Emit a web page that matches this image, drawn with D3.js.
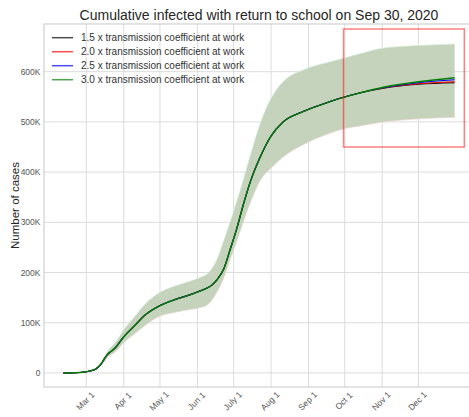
<!DOCTYPE html>
<meta charset="utf-8">
<style>
    body { margin: 0; background: #fff; }
    svg { font-family: "Liberation Sans", Arial, sans-serif; }
    .grid line { stroke: #dcdcdc; stroke-width: 1; }
    .tick-label { fill: #555; font-size: 8.5px; }
    .legend text { fill: #333; font-size: 10px; }
</style>
<svg class="chart"></svg>
<script src="https://cdn.jsdelivr.net/npm/d3@7"></script>
<script>

    // sample dates (2020)
    const dates = [
        "2020-02-11", "2020-02-20", "2020-02-27", "2020-03-04", "2020-03-09", "2020-03-13",
        "2020-03-16", "2020-03-19", "2020-03-21", "2020-03-25", "2020-04-01", "2020-04-10",
        "2020-04-19", "2020-04-30", "2020-05-12", "2020-05-25", "2020-06-03", "2020-06-09",
        "2020-06-13", "2020-06-17", "2020-06-23", "2020-06-28", "2020-07-04", "2020-07-09",
        "2020-07-15", "2020-07-23", "2020-08-01", "2020-08-11", "2020-08-28", "2020-09-16",
        "2020-09-30", "2020-10-14", "2020-11-02", "2020-12-01", "2020-12-31"
    ];

    // cumulative cases, thousands
    const work15 = [0, 0.5, 1.5, 4, 8, 17, 28, 38, 42, 50, 72, 94, 116, 133, 145, 155, 163, 169,
        175, 185, 208, 245, 291, 335, 382, 430, 472, 500, 521, 538, 549, 558, 567, 575, 578];
    const work20 = [0, 0.5, 1.5, 4, 8, 17, 28, 38, 42, 50, 72, 94, 116, 133, 145, 155, 163, 169,
        175, 185, 208, 245, 291, 335, 382, 430, 472, 500, 521, 538, 549, 558, 567.5, 576, 580];
    const work25 = [0, 0.5, 1.5, 4, 8, 17, 28, 38, 42, 50, 72, 94, 116, 133, 145, 155, 163, 169,
        175, 185, 208, 245, 291, 335, 382, 430, 472, 500, 521, 538, 549, 558, 568, 578, 584];
    const work30 = [0, 0.5, 1.5, 4, 8, 17, 28, 38, 42, 50, 72, 94, 116, 133, 145, 155, 163, 169,
        175, 185, 208, 245, 291, 335, 382, 430, 472, 500, 521, 538, 549, 558, 569, 580, 588];

    // uncertainty band, thousands
    const bandLow = [0, 0.5, 1.5, 3.5, 7, 14, 23, 32, 35, 42, 60, 78, 95, 112, 120, 126, 130, 135,
        145, 160, 190, 225, 265, 300, 340, 383, 408, 430, 455, 475, 486, 492, 500, 506, 509];
    const bandHigh = [0, 0.5, 1.5, 4.5, 9, 20, 33, 44, 50, 60, 86, 112, 138, 159, 172, 182, 190, 197,
        208, 225, 265, 300, 345, 385, 435, 497, 547, 580, 604, 618, 627, 636, 647, 652, 655];

    const seriesNames = [
        "1.5 x transmission coefficient at work",
        "2.0 x transmission coefficient at work",
        "2.5 x transmission coefficient at work",
        "3.0 x transmission coefficient at work"
    ];
    const seriesValues = [work15, work20, work25, work30];
    const seriesColors = ["#000000", "#ff0000", "#0000ff", "#008000"];

    const xTickDates = ["2020-03-01", "2020-04-01", "2020-05-01", "2020-06-01", "2020-07-01",
        "2020-08-01", "2020-09-01", "2020-10-01", "2020-11-01", "2020-12-01"];
    const xTickLabels = ["Mar 1", "Apr 1", "May 1", "Jun 1", "July 1", "Aug 1", "Sep 1", "Oct 1", "Nov 1", "Dec 1"];
    const yTickValues = [0, 100, 200, 300, 400, 500, 600];
    const yTickLabels = ["0", "100K", "200K", "300K", "400K", "500K", "600K"];

    // highlighted window
    const boxDates = ["2020-09-30", "2021-01-08"];
    const boxValues = [450, 685];

    const W = 469, H = 417;
    const plot = {left: 44, right: 474, top: 24, bottom: 387};
    const parse = d3.timeParse("%Y-%m-%d");

    const x = d3.scaleTime()
        .domain([parse("2020-01-26"), parse("2021-01-16")])
        .range([plot.left, plot.right]);
    const y = d3.scaleLinear()
        .domain([-28, 695])
        .range([plot.bottom, plot.top]);

    const svg = d3.select(".chart")
        .attr("width", W)
        .attr("height", H);

    // grid
    const grid = svg.append("g").attr("class", "grid");
    grid.selectAll("line.h")
        .data(yTickValues)
        .join("line")
        .attr("class", "h")
        .attr("x1", plot.left).attr("x2", plot.right)
        .attr("y1", d => y(d)).attr("y2", d => y(d));
    grid.selectAll("line.v")
        .data(xTickDates)
        .join("line")
        .attr("class", "v")
        .attr("x1", d => x(parse(d))).attr("x2", d => x(parse(d)))
        .attr("y1", plot.top).attr("y2", plot.bottom);

    // spines
    svg.append("rect")
        .attr("x", plot.left).attr("y", plot.top)
        .attr("width", plot.right - plot.left).attr("height", plot.bottom - plot.top)
        .attr("fill", "none")
        .attr("stroke", "#d0d0d0")
        .attr("stroke-width", 1.2);

    const rows = dates.map((d, i) => ({date: parse(d), lo: bandLow[i], hi: bandHigh[i]}));

    const area = d3.area()
        .x(d => x(d.date))
        .y0(d => y(d.lo))
        .y1(d => y(d.hi))
        .curve(d3.curveMonotoneX);

    svg.append("path")
        .datum(rows)
        .attr("d", area)
        .attr("fill", "rgb(197,211,188)");

    // faint edges of the overlapped bands
    svg.append("path")
        .datum(rows)
        .attr("d", d3.line().x(d => x(d.date)).y(d => y(d.hi)).curve(d3.curveMonotoneX))
        .attr("fill", "none")
        .attr("stroke", "#d2f0da")
        .attr("stroke-width", 0.6);
    svg.append("path")
        .datum(rows)
        .attr("d", d3.line().x(d => x(d.date)).y(d => y(d.lo)).curve(d3.curveMonotoneX))
        .attr("fill", "none")
        .attr("stroke", "#f4d6d6")
        .attr("stroke-width", 0.6);

    const line = d3.line()
        .x((d, i) => x(parse(dates[i])))
        .y(d => y(d))
        .curve(d3.curveMonotoneX);

    svg.append("g")
        .selectAll("path")
        .data(seriesValues)
        .join("path")
        .attr("d", line)
        .attr("fill", "none")
        .attr("stroke", (d, i) => seriesColors[i])
        .attr("stroke-width", (d, i) => i === 3 ? 1.4 : 1.1);

    // highlight box
    svg.append("rect")
        .attr("x", x(parse(boxDates[0])))
        .attr("y", y(boxValues[1]))
        .attr("width", x(parse(boxDates[1])) - x(parse(boxDates[0])))
        .attr("height", y(boxValues[0]) - y(boxValues[1]))
        .attr("fill", "none")
        .attr("stroke", "#ff0000")
        .attr("stroke-opacity", 0.5)
        .attr("stroke-width", 1.5);

    // y tick labels
    svg.append("g")
        .selectAll("text")
        .data(yTickValues)
        .join("text")
        .attr("class", "tick-label")
        .attr("x", plot.left - 3.5)
        .attr("y", d => y(d))
        .attr("dy", "0.35em")
        .attr("text-anchor", "end")
        .text((d, i) => yTickLabels[i]);

    // x tick labels, rotated
    svg.append("g")
        .selectAll("text")
        .data(xTickDates)
        .join("text")
        .attr("class", "tick-label")
        .attr("text-anchor", "middle")
        .attr("dy", "0.35em")
        .attr("transform", d => `translate(${x(parse(d)) - 1},${plot.bottom + 14}) rotate(-45)`)
        .text((d, i) => xTickLabels[i]);

    svg.append("text")
        .attr("x", 15)
        .attr("y", (plot.top + plot.bottom) / 2)
        .attr("transform", `rotate(-90,15,${(plot.top + plot.bottom) / 2})`)
        .attr("dy", "0.35em")
        .attr("text-anchor", "middle")
        .attr("fill", "#262626")
        .attr("font-size", 11.5)
        .text("Number of cases");

    svg.append("text")
        .attr("x", 259)
        .attr("y", 20)
        .attr("text-anchor", "middle")
        .attr("fill", "#262626")
        .attr("font-size", 14)
        .text("Cumulative infected with return to school on Sep 30, 2020");

    // legend
    const legend = svg.append("g").attr("class", "legend");
    const item = legend.selectAll("g")
        .data(seriesNames)
        .join("g")
        .attr("transform", (d, i) => `translate(52,${37.7 + i * 14})`);
    item.append("line")
        .attr("x1", 0).attr("x2", 21)
        .attr("stroke", (d, i) => seriesColors[i])
        .attr("stroke-opacity", 0.7)
        .attr("stroke-width", 1.5);
    item.append("text")
        .attr("x", 29)
        .attr("dy", "0.35em")
        .text(d => d);

</script>
